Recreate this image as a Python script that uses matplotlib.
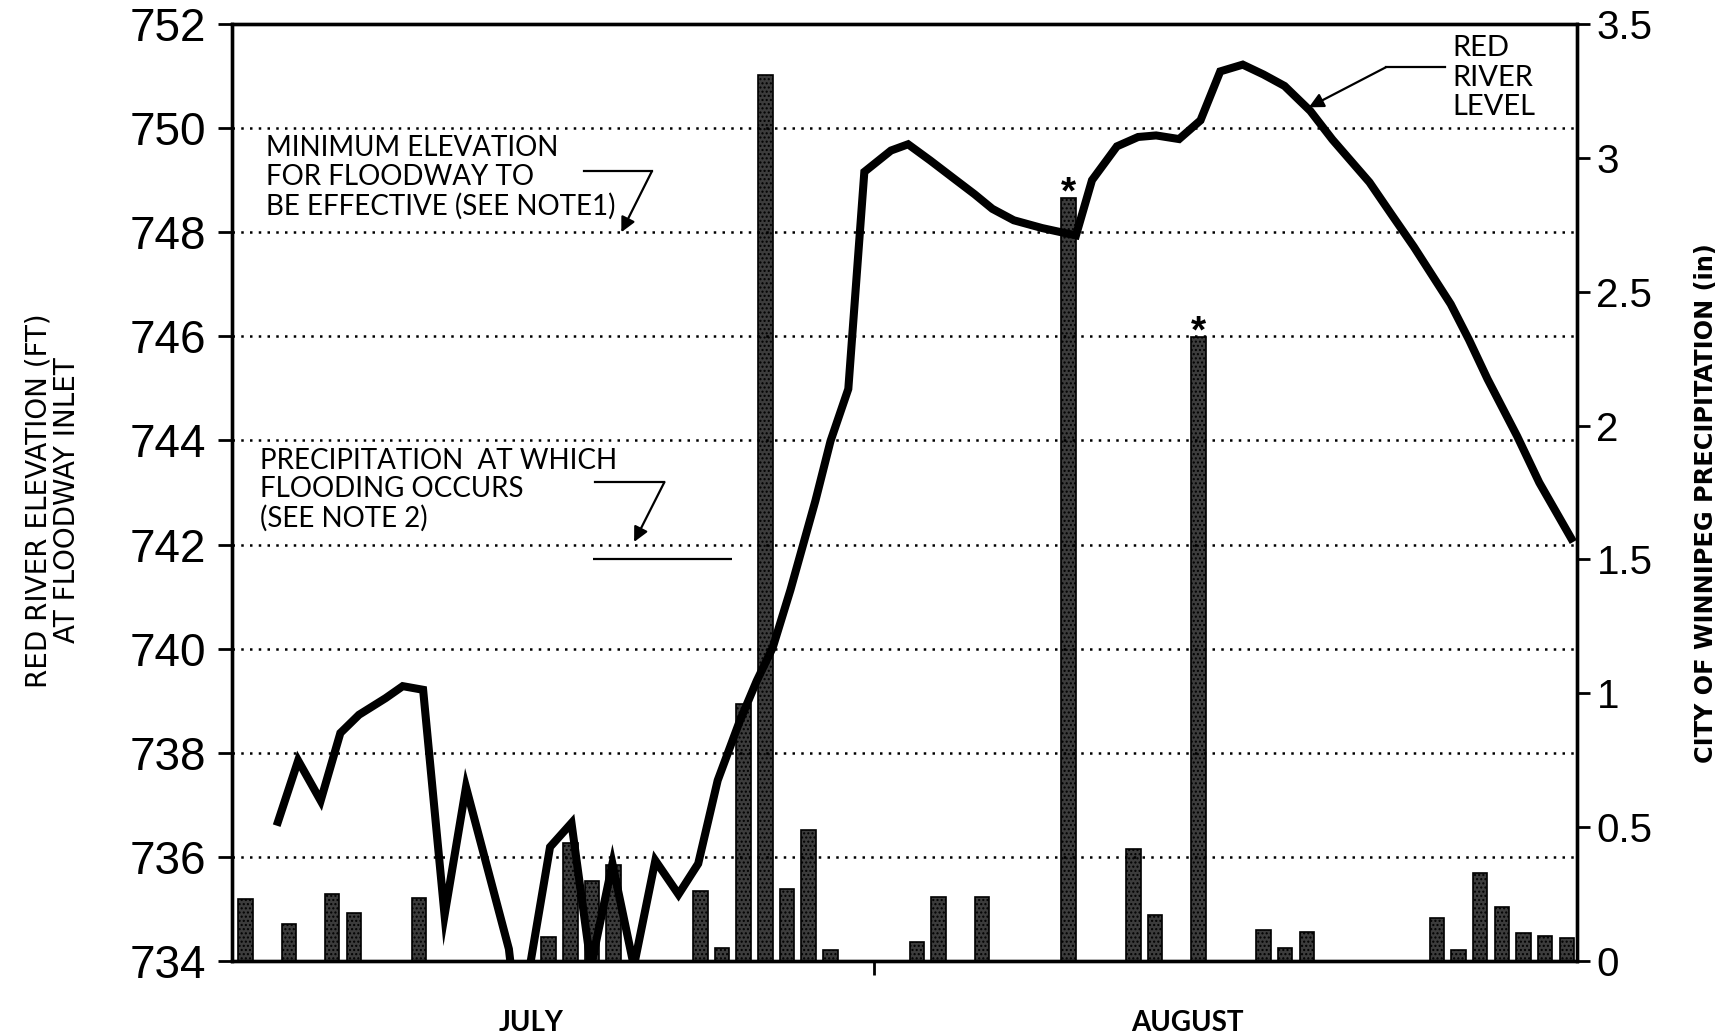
import numpy as np
import matplotlib
matplotlib.use('Agg')
import matplotlib.pyplot as plt

# day index 0 = July 1 ... 61 = Aug 31
days = np.arange(62)

# City of Winnipeg daily precipitation (in)
precip = [0.23, 0, 0.14, 0, 0.25, 0.18, 0, 0, 0.235, 0,
          0, 0, 0, 0, 0.09, 0.44, 0.30, 0.36, 0, 0,
          0, 0.26, 0.05, 0.96, 3.31, 0.27, 0.49, 0.04, 0, 0,
          0, 0.07, 0.24, 0, 0.24, 0, 0, 0, 2.85, 0,
          0, 0.42, 0.17, 0, 2.33, 0, 0, 0.116, 0.05, 0.11,
          0, 0, 0, 0, 0, 0.16, 0.04, 0.33, 0.20, 0.105,
          0.095, 0.085]
flagged_days = [38, 44]

# Red River level at floodway inlet (ft)
level_day = [1.44, 2.43, 3.47, 4.38, 5.24, 6.47, 7.26, 8.20, 9.19, 10.18,
             12.16, 12.5, 13.15, 14.06, 15.05, 15.95, 16.94, 17.93, 18.92, 19.99,
             20.9, 21.8, 22.8, 23.6, 24.34, 25.16, 26.31, 27.01, 27.83, 28.57,
             29.8, 30.59, 31.61, 32.68, 33.66, 34.48, 35.47, 36.78, 37.77, 38.34,
             39.08, 40.23, 41.21, 42.04, 43.1, 44.09, 45.0, 46.04, 47.0, 47.97,
             49.16, 50.18, 51.89, 52.91, 53.94, 55.64, 56.49, 57.34, 58.71, 59.73,
             61.3]
level_ft = [736.6, 737.85, 737.08, 738.38, 738.73, 739.05, 739.28, 739.21, 734.88, 737.34,
            734.23, 733.0, 733.95, 736.19, 736.65, 733.9, 735.87, 733.9, 735.93, 735.28,
            735.87, 737.47, 738.59, 739.38, 740.02, 741.13, 742.84, 743.99, 744.99, 749.16,
            749.57, 749.69, 749.38, 749.04, 748.73, 748.45, 748.23, 748.08, 747.99, 747.94,
            749.0, 749.65, 749.83, 749.86, 749.79, 750.15, 751.09, 751.22, 751.03, 750.81,
            750.33, 749.78, 748.96, 748.34, 747.72, 746.62, 745.93, 745.18, 744.08, 743.19,
            742.05]

min_floodway_ft = 748
flood_precip_in = 1.5

left_ticks = list(range(734, 753, 2))
grid_ft = list(range(736, 751, 2))
right_ticks = [0, 0.5, 1, 1.5, 2, 2.5, 3, 3.5]
month_tick = 29.0
month_names = ['JULY', 'AUGUST']
month_pos = [13.2, 43.5]

note_font = ['Lato', 'DejaVu Sans']
tick_font = ['Liberation Sans', 'DejaVu Sans']
plt.rcParams['hatch.linewidth'] = 1.0

fig = plt.figure(figsize=(17.28, 10.36), dpi=100)
ax = fig.add_axes([0.1343, 0.0724, 0.7783, 0.9044])
ax2 = ax.twinx()
ax.set_zorder(ax2.get_zorder() + 1)
ax.patch.set_visible(False)

# precipitation bars (right axis)
ax2.bar(days, precip, width=0.67, color='#3c3c3c', edgecolor='black',
        linewidth=1.2, hatch='....')
for d in flagged_days:
    ax2.annotate('*', (d, precip[d]), xytext=(0, -4), textcoords='offset points',
                 ha='center', va='baseline', fontsize=28, fontweight='bold',
                 family=tick_font)
ax2.hlines(flood_precip_in, 16.03, 22.46, color='black', lw=1.6)

# river level (left axis)
ax.plot(level_day, level_ft, color='black', lw=5.8, solid_joinstyle='miter',
        solid_capstyle='butt')
for g in grid_ft:
    ax.axhline(g, color='black', lw=1.8, linestyle=(0, (1, 2.5)),
               dash_capstyle='butt', zorder=0.5)

ax.set_xlim(-0.62, 61.47)
ax.set_ylim(734, 752)
ax2.set_ylim(0, 3.5)

ax.set_yticks(left_ticks, labels=[str(v) for v in left_ticks])
ax2.set_yticks(right_ticks, labels=[f'{v:g}' for v in right_ticks])
ax.tick_params(axis='y', direction='out', length=10, width=2, pad=9,
               labelsize=33)
ax2.tick_params(axis='y', direction='out', length=9, width=2, pad=5,
                labelsize=29)
for lab in ax.get_yticklabels() + ax2.get_yticklabels():
    lab.set_family(tick_font)

ax.set_xticks([month_tick], labels=[''])
ax.set_xticks(month_pos, labels=month_names, minor=True)
ax.tick_params(axis='x', which='major', direction='out', length=10, width=2)
ax.tick_params(axis='x', which='minor', length=0, pad=35, labelsize=20)
for lab in ax.get_xticklabels(minor=True):
    lab.set_family(note_font)
    lab.set_fontweight('bold')

for a in (ax, ax2):
    for s in a.spines.values():
        s.set_linewidth(2.4)

# annotations
arrow_kw = dict(arrowstyle='-|>', color='black', lw=1.6, mutation_scale=22,
                shrinkA=0, shrinkB=0)

ax.text(0.95, 749.86, 'MINIMUM ELEVATION\nFOR FLOODWAY TO\nBE EFFECTIVE (SEE NOTE1)',
        ha='left', va='top', fontsize=20, family=note_font, linespacing=1.12)
ax.plot([15.62, 18.76], [749.17, 749.17], color='black', lw=1.6)
ax.annotate('', xy=(17.35, min_floodway_ft), xytext=(18.76, 749.17),
            arrowprops=arrow_kw)

ax.text(0.67, 743.86, 'PRECIPITATION  AT WHICH\nFLOODING OCCURS\n(SEE NOTE 2)',
        ha='left', va='top', fontsize=20, family=note_font, linespacing=1.12)
ax.plot([16.12, 19.34], [743.2, 743.2], color='black', lw=1.6)
ax.annotate('', xy=(17.94, 742.05), xytext=(19.34, 743.2), arrowprops=arrow_kw)

ax.text(55.73, 751.78, 'RED\nRIVER\nLEVEL', ha='left', va='top', fontsize=21,
        family=note_font, linespacing=1.15)
ax.plot([52.65, 55.38], [751.17, 751.17], color='black', lw=1.6)
ax.annotate('', xy=(49.09, 750.4), xytext=(52.65, 751.17), arrowprops=arrow_kw)

fig.text(0.0305, 0.517, 'RED RIVER ELEVATION (FT)\nAT FLOODWAY INLET', rotation=90,
         ha='center', va='center', fontsize=20, family='DejaVu Sans',
         linespacing=1.05)
fig.text(0.987, 0.514, 'CITY OF WINNIPEG PRECIPITATION (in)', rotation=90,
         ha='center', va='center', fontsize=17.3, fontweight='bold',
         family='DejaVu Sans')

fig.savefig('out.png', dpi=100)
